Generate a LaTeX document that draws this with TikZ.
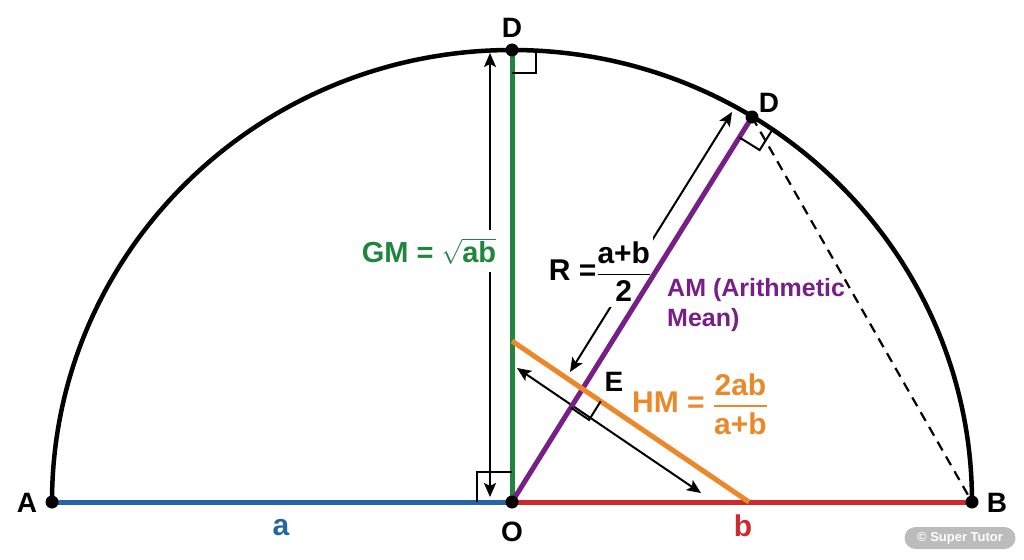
\documentclass[tikz,border=0pt]{standalone}
\usepackage{amsmath}
\usepackage{fontspec}
\setmainfont{Liberation Sans}
\usetikzlibrary{arrows.meta,calc}
\definecolor{gmgreen}{RGB}{32,134,62}
\definecolor{amviolet}{RGB}{120,30,135}
\definecolor{hmorange}{RGB}{234,136,42}
\definecolor{abblue}{RGB}{38,100,170}
\definecolor{abred}{RGB}{208,40,44}
\definecolor{wmgray}{RGB}{188,188,188}

\begin{document}
\begin{tikzpicture}[x=1pt,y=-1pt,
        pt/.style={circle,fill=black,inner sep=0pt,minimum size=13pt},
        lab/.style={font=\fontsize{#1}{#1}\selectfont\bfseries},
        dimline/.style={line width=2pt,{Stealth[length=14pt,width=12pt,inset=3pt]}-{Stealth[length=14pt,width=12pt,inset=3pt]}},
        sq/.style={line width=2pt}]
    \useasboundingbox (0,0) rectangle (1024,559);

    \coordinate (A) at (52,502);
    \coordinate (O) at (512,502);
    \coordinate (B) at (972,502);
    \coordinate (D) at (512,50);
    \coordinate (Dr) at (752,117);
    \coordinate (H1) at (512,341);
    \coordinate (H2) at (749,502);
    \coordinate (E) at (582.5,388.9);

    \draw[line width=4.5pt] (A) arc[start angle=180,end angle=360,x radius=460,y radius=452];
    \draw[line width=2.2pt,dash pattern=on 10pt off 7pt] (Dr) -- (B);

    \coordinate (gmtop) at (490,53);
    \coordinate (gmbot) at (490,497);
    \coordinate (rbot) at (570,372);
    \coordinate (rtop) at (732,112);
    \coordinate (hmtop) at (517,368);
    \coordinate (hmbot) at (701,493);
    \draw[dimline] (gmtop) -- (gmbot);
    \draw[dimline] (rbot) -- (rtop);
    \draw[dimline] (hmtop) -- (hmbot);

    \node[lab=29,text=gmgreen,fill=white,inner xsep=2pt,inner ysep=8pt] (gm) at (429,251) {GM = $\sqrt{\textbf{ab}}$};
    \node[lab=30,fill=white,inner xsep=2pt,inner ysep=5pt] (r) at (600,272) {R =$\genfrac{}{}{1.8pt}{0}{\textbf{a+b}}{\textbf{2}}$};

    \draw[abblue,line width=5pt] (A) -- (O);
    \draw[abred,line width=5pt] (O) -- (B);
    \draw[gmgreen,line width=5pt] (O) -- (D);
    \draw[amviolet,line width=5pt] (O) -- (Dr);
    \draw[hmorange,line width=5pt] (H1) -- (H2);

    \draw[sq] ($(D)+(0,23)$) -| ($(D)+(24,2)$);
    \draw[sq] ($(O)+(-35,0)$) |- ($(O)+(0,-30)$);
    \coordinate (e1) at ($(E)!22pt!(O)$);
    \coordinate (e2) at ($(E)!22pt!(H2)$);
    \draw[sq] (e1) -- ($(e1)+(e2)-(E)$) -- (e2);
    \coordinate (d1) at ($(Dr)!24pt!(O)$);
    \coordinate (d2) at ($(Dr)!24pt!90:(O)$);
    \draw[sq] (d1) -- ($(d1)+(d2)-(Dr)$) -- (d2);

    \node[pt] (Adot) at (A) {};
    \node[pt] (Odot) at (O) {};
    \node[pt] (Bdot) at (B) {};
    \node[pt] (Ddot) at (D) {};
    \node[pt] (Drdot) at (Dr) {};

    \node[lab=28] (Alab) at (27,503) {A};
    \node[lab=28] (Blab) at (997,503) {B};
    \node[lab=28] (Olab) at (512,532) {O};
    \node[lab=28] (Dlab) at (512,28) {D};
    \node[lab=28] (Drlab) at (769,103) {D};
    \node[lab=28] (Elab) at (614,382) {E};
    \node[lab=30,text=abblue] (alab) at (281,528) {a};
    \node[lab=30,text=abred] (blab) at (743,526) {b};

    \node[font=\fontsize{25}{30}\selectfont\bfseries,text=amviolet,align=left,anchor=north west,inner sep=0pt] (am) at (667,278) {AM (Arithmetic\\Mean)};
    \node[lab=30,text=hmorange] (hm) at (700,404) {HM = $\genfrac{}{}{1.8pt}{0}{\textbf{2ab}}{\textbf{a+b}}$};

    \node[fill=wmgray,rounded corners=11pt,text=white,font=\fontsize{13}{13}\selectfont\bfseries,minimum width=111pt,minimum height=22pt,inner sep=0pt] (wm) at (960,538) {© Super Tutor};
\end{tikzpicture}
\end{document}
